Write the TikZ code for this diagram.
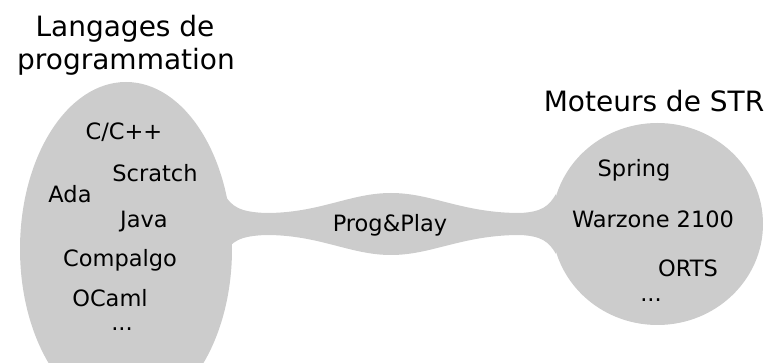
\documentclass[tikz,border=0pt]{standalone}
\usepackage{fontspec}
\setmainfont{DejaVu Sans}
\begin{document}
\begin{tikzpicture}[x=1pt,y=-1pt,
    mot/.style={anchor=base,inner sep=0pt,font=\fontsize{22.5}{27}\selectfont},
    titre/.style={anchor=base,inner sep=0pt,font=\fontsize{28}{33}\selectfont}]
\useasboundingbox (0,0) rectangle (772,363);
\clip (0,0) rectangle (772,363);

% Ensembles
\fill [gray!40] (126,249) ellipse [x radius=106, y radius=167];
\fill [gray!40] (657.5,224) ellipse [x radius=105.5, y radius=101];

% Pont
\fill [gray!40] (224,194) .. controls (232,207) and (240,212) .. (266,213)
             .. controls (320,213) and (350,193) .. (391,193)
             .. controls (432,193) and (462,213) .. (520,213)
             .. controls (542,212) and (549,206) .. (556,194)
             -- (556,254) .. controls (549,242) and (542,236) .. (520,235)
             .. controls (462,235) and (432,255) .. (391,255)
             .. controls (350,255) and (320,235) .. (266,235)
             .. controls (240,236) and (232,241) .. (224,254) -- cycle;

% Titres
\node [titre] (lang1) at (125,37) {Langages de};
\node [titre] (lang2) at (126,70) {programmation};
\node [titre] (moteurs) at (654,112) {Moteurs de STR};

% Langages
\node [mot] (cpp) at (124,140) {C/C++};
\node [mot] (scratch) at (155,182) {Scratch};
\node [mot] (ada) at (70,203) {Ada};
\node [mot] (java) at (144,228) {Java};
\node [mot] (compalgo) at (120,267) {Compalgo};
\node [mot] (ocaml) at (110,307) {OCaml};
\node [mot] (lpts) at (122,331) {...};

% Prog&Play
\node [mot] (pp) at (390,232) {Prog\&Play};

% Moteurs
\node [mot] (spring) at (634,177) {Spring};
\node [mot] (warzone) at (653,228) {Warzone 2100};
\node [mot] (orts) at (688,277) {ORTS};
\node [mot] (mpts) at (651,302) {...};

\end{tikzpicture}
\end{document}
